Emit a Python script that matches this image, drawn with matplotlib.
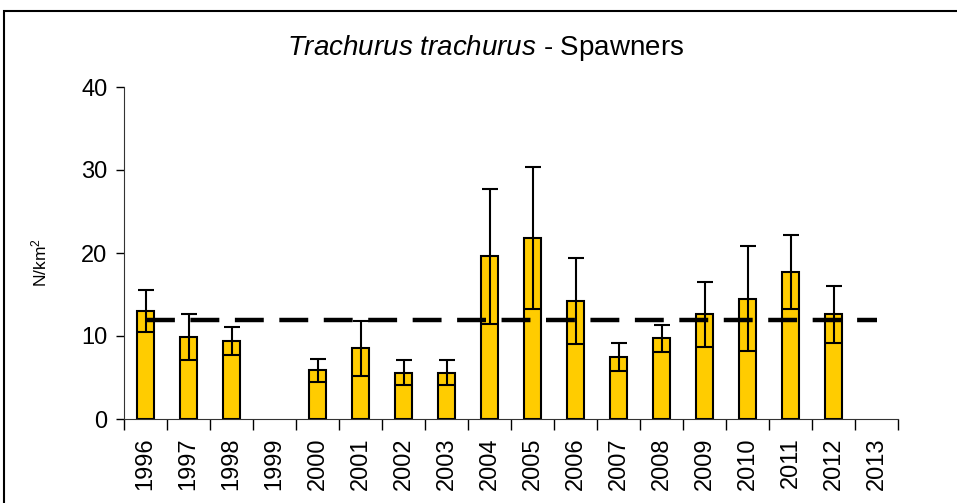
import numpy as np
import matplotlib.pyplot as plt
from matplotlib.patches import Rectangle

plt.rcParams['font.family'] = ['Liberation Sans', 'DejaVu Sans']
plt.rcParams['mathtext.fontset'] = 'custom'
plt.rcParams['mathtext.rm'] = 'Liberation Sans'
plt.rcParams['mathtext.it'] = 'Liberation Sans:italic'

# Datos
years = ['1996', '1997', '1998', '1999', '2000', '2001', '2002', '2003', '2004',
         '2005', '2006', '2007', '2008', '2009', '2010', '2011', '2012', '2013']
values = [13.0, 9.9, 9.4, np.nan, 5.85, 8.5, 5.6, 5.6, 19.6,
          21.8, 14.2, 7.5, 9.7, 12.6, 14.5, 17.7, 12.6, np.nan]
errors = [2.5, 2.8, 1.7, np.nan, 1.4, 3.3, 1.45, 1.45, 8.1,
          8.6, 5.2, 1.7, 1.6, 3.9, 6.3, 4.5, 3.4, np.nan]
mean_value = 11.9

fig = plt.figure(figsize=(9.57, 5.03), dpi=100)
ax = fig.add_axes([124/957, 1 - 419/503, 774/957, 332/503])

x = np.arange(len(years))
ax.bar(x, values, width=0.38, color='#FFCC00', edgecolor='black', linewidth=1.5, zorder=2)
ax.errorbar(x, values, yerr=errors, fmt='none', ecolor='black', elinewidth=1.5,
            capsize=5.5, capthick=1.5, zorder=3)

# Linea de la media
ax.plot([x[0], x[-1]], [mean_value, mean_value], color='black', linewidth=3.2,
        linestyle=(0, (6.5, 3.5)), zorder=4)

ax.set_xlim(-0.5, len(years) - 0.5)
ax.set_ylim(0, 40)
ax.set_yticks([0, 10, 20, 30, 40])
ax.tick_params(axis='y', labelsize=17, length=6, width=1, pad=6)

ax.set_xticks(x)
ax.set_xticklabels(years, rotation=90, fontsize=17)
ax.tick_params(axis='x', length=0, pad=13)
ax.set_xticks(np.arange(-0.5, len(years)), minor=True)
ax.tick_params(axis='x', which='minor', length=8, width=1)

for s in ['top', 'right']:
    ax.spines[s].set_visible(False)
ax.spines['left'].set_color('#333333')
ax.spines['bottom'].set_color('#333333')

ax.set_ylabel('N/km$^2$', fontsize=12.5)
ax.yaxis.set_label_coords(-0.097, 0.47)

fig.text(486/957, 1 - 48/503, r'$Trachurus\ trachurus$ - Spawners', ha='center', va='center',
         fontsize=20)

# Marco exterior
fig.patches.append(Rectangle((4/957, -0.1), 1.1, 1.1 - 11/503, transform=fig.transFigure,
                             fill=False, edgecolor='black', linewidth=1.5))

plt.savefig('out.png', dpi=100)
